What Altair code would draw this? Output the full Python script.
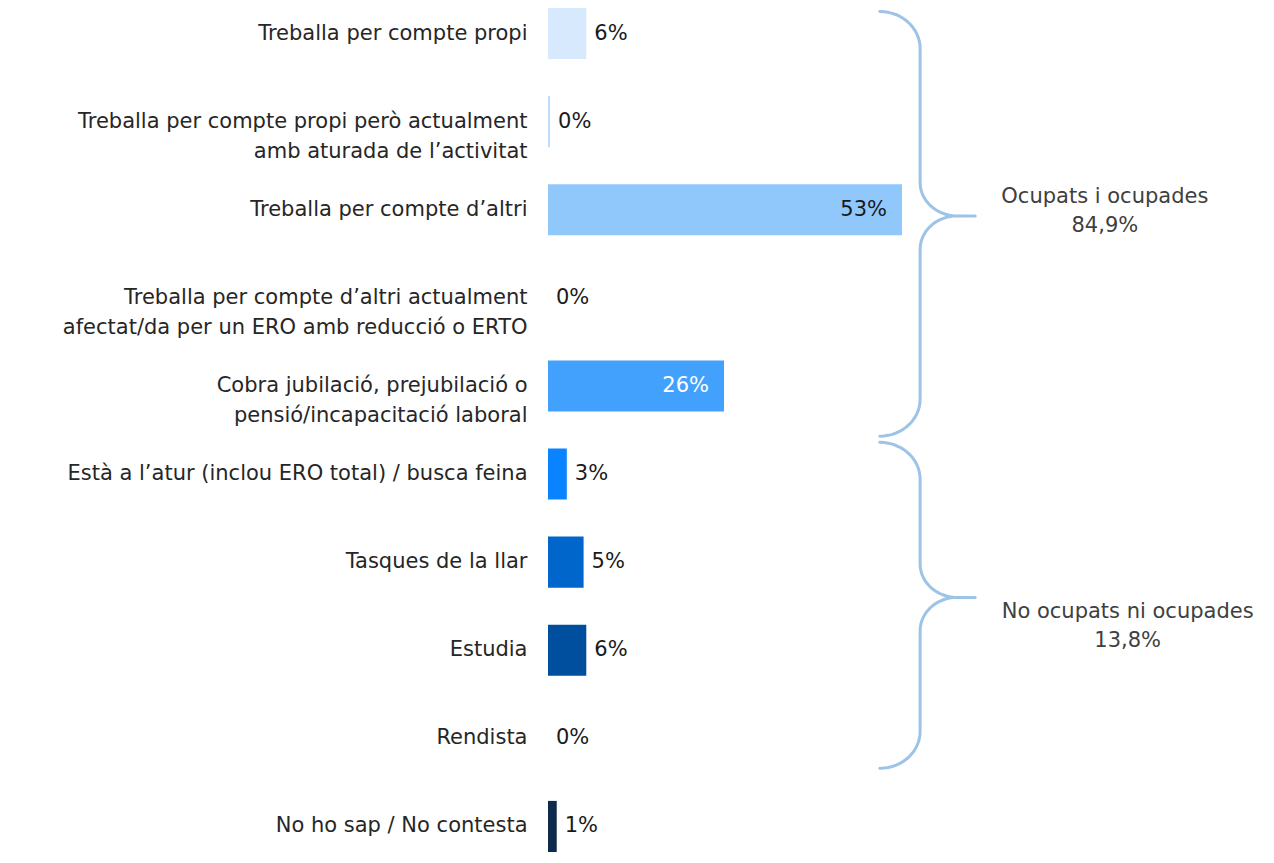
import altair as alt
import pandas as pd
import numpy as np

# ---------------- data ----------------
categories = [
    "Treballa per compte propi",
    "Treballa per compte propi però actualment|amb aturada de l’activitat",
    "Treballa per compte d’altri",
    "Treballa per compte d’altri actualment|afectat/da per un ERO amb reducció o ERTO",
    "Cobra jubilació, prejubilació o|pensió/incapacitació laboral",
    "Està a l’atur (inclou ERO total) / busca feina",
    "Tasques de la llar",
    "Estudia",
    "Rendista",
    "No ho sap / No contesta",
]
values = [5.7, 0.3, 52.7, 0.0, 26.2, 2.8, 5.3, 5.7, 0.0, 1.3]
value_labels = ["6%", "0%", "53%", "0%", "26%", "3%", "5%", "6%", "0%", "1%"]
bar_colors = ["#d6e9fd", "#bbdcfb", "#90c8fc", "#90c8fc", "#42a1fc",
              "#0a84fe", "#0066cc", "#004f9e", "#004f9e", "#0e2a4d"]

group_labels = ["Ocupats i ocupades\n84,9%", "No ocupats ni ocupades\n13,8%"]
group_first_row = [0, 5]
group_last_row = [4, 8]

# ---------------- layout constants ----------------
FONT = "DejaVu Sans"
FS = 21
PAD_INNER = 0.42
N = len(categories)
X_MAX = 106
W, H = 712, 844
BRACE_COLOR = "#9dc3e6"

# brace geometry in data units (x in %, y in row units)
XE, XV, XTC, XT = 49.4, 55.4, 60.9, 63.6
RY, RY2 = 0.42, 0.38
brace_extent = [(-0.25, 0.57, 2.07), (-0.36, 0.34, 1.40)]  # (top, bottom, tip) offsets from first/last row
group_text_x = [82.9, 86.3]
group_text_row = [1.86, 6.57]

df = pd.DataFrame({"cat": categories, "value": values, "label": value_labels, "color": bar_colors})


def lum(h):
    r, g, b = (int(h[i:i + 2], 16) / 255 for i in (1, 3, 5))
    return 0.299 * r + 0.587 * g + 0.114 * b


df["tcolor"] = ["#ffffff" if lum(c) < 0.65 else "#1a1a1a" for c in bar_colors]
df["inside"] = [v >= 20 for v in values]

c0 = (1 - PAD_INNER) / 2  # row-centre offset in row units


def brace_points(first, last, ext):
    top = first + c0 + ext[0]
    bot = last + c0 + ext[1]
    tip = first + c0 + ext[2]
    rx = XV - XE
    rx2 = XTC - XV
    pts = []
    t = np.linspace(0, np.pi / 2, 16)
    pts += [(XE + rx * np.sin(a), top + RY * (1 - np.cos(a))) for a in t]
    pts += [(XV + rx2 * (1 - np.cos(a)), tip - RY2 + RY2 * np.sin(a)) for a in t]
    pts += [(XT, tip)]
    pts += [(XV + rx2 * (1 - np.cos(a)), tip + RY2 - RY2 * np.sin(a)) for a in t[::-1]]
    pts += [(XE + rx * np.sin(a), bot - RY * (1 - np.cos(a))) for a in t[::-1]]
    return pts


rows = []
for g, (f, l, e) in enumerate(zip(group_first_row, group_last_row, brace_extent)):
    for o, (x, y) in enumerate(brace_points(f, l, e)):
        rows.append({"g": g, "o": o, "bx": x, "by": y})
brace_df = pd.DataFrame(rows)

gtext_df = pd.DataFrame({
    "text": group_labels,
    "tx": group_text_x,
    "ty": [r + c0 for r in group_text_row],
})

xscale = alt.Scale(domain=[0, X_MAX], nice=False, zero=True)
yband = alt.Scale(type="band", domain=categories, paddingInner=PAD_INNER, paddingOuter=0)
yq = alt.Scale(domain=[0, N - PAD_INNER], reverse=True, nice=False, zero=False)

y_axis = alt.Axis(
    title=None, domain=False, ticks=False, grid=False,
    labelFont=FONT, labelFontSize=FS, labelColor="#262626",
    labelPadding=21, labelLimit=535, labelLineHeight=30,
    labelAlign="right", labelBaseline="middle",
    labelExpr="split(datum.label, '|')",
    minExtent=540, maxExtent=540,
)

bars = alt.Chart(df).mark_bar().encode(
    y=alt.Y("cat:N", sort=categories, scale=yband, axis=y_axis),
    x=alt.X("value:Q", scale=xscale, axis=None),
    color=alt.Color("color:N", scale=None, legend=None),
)

txt_out = alt.Chart(df).transform_filter("!datum.inside").mark_text(
    align="left", baseline="middle", dx=8, font=FONT, fontSize=FS, color="#1a1a1a"
).encode(
    y=alt.Y("cat:N", sort=categories, scale=yband, axis=None),
    x=alt.X("value:Q", scale=xscale, axis=None),
    text="label:N",
)

txt_in = alt.Chart(df).transform_filter("datum.inside").mark_text(
    align="right", baseline="middle", dx=-15, font=FONT, fontSize=FS
).encode(
    y=alt.Y("cat:N", sort=categories, scale=yband, axis=None),
    x=alt.X("value:Q", scale=xscale, axis=None),
    text="label:N",
    color=alt.Color("tcolor:N", scale=None, legend=None),
)

braces = alt.Chart(brace_df).mark_line(
    color=BRACE_COLOR, strokeWidth=3, strokeCap="round", strokeJoin="round"
).encode(
    x=alt.X("bx:Q", scale=xscale, axis=None),
    y=alt.Y("by:Q", scale=yq, axis=None),
    detail="g:N",
    order="o:Q",
)

gtext = alt.Chart(gtext_df).mark_text(
    align="center", baseline="middle", lineBreak="\n", lineHeight=29,
    font=FONT, fontSize=FS, color="#404040"
).encode(
    x=alt.X("tx:Q", scale=xscale, axis=None),
    y=alt.Y("ty:Q", scale=yq, axis=None),
    text="text:N",
)

chart = alt.layer(bars, txt_out, txt_in, braces, gtext).resolve_scale(
    y="independent", color="independent"
).properties(
    width=W, height=H, padding=0
).configure_view(stroke=None)

chart.save("out.html", embed_options={"renderer": "svg", "actions": False})
